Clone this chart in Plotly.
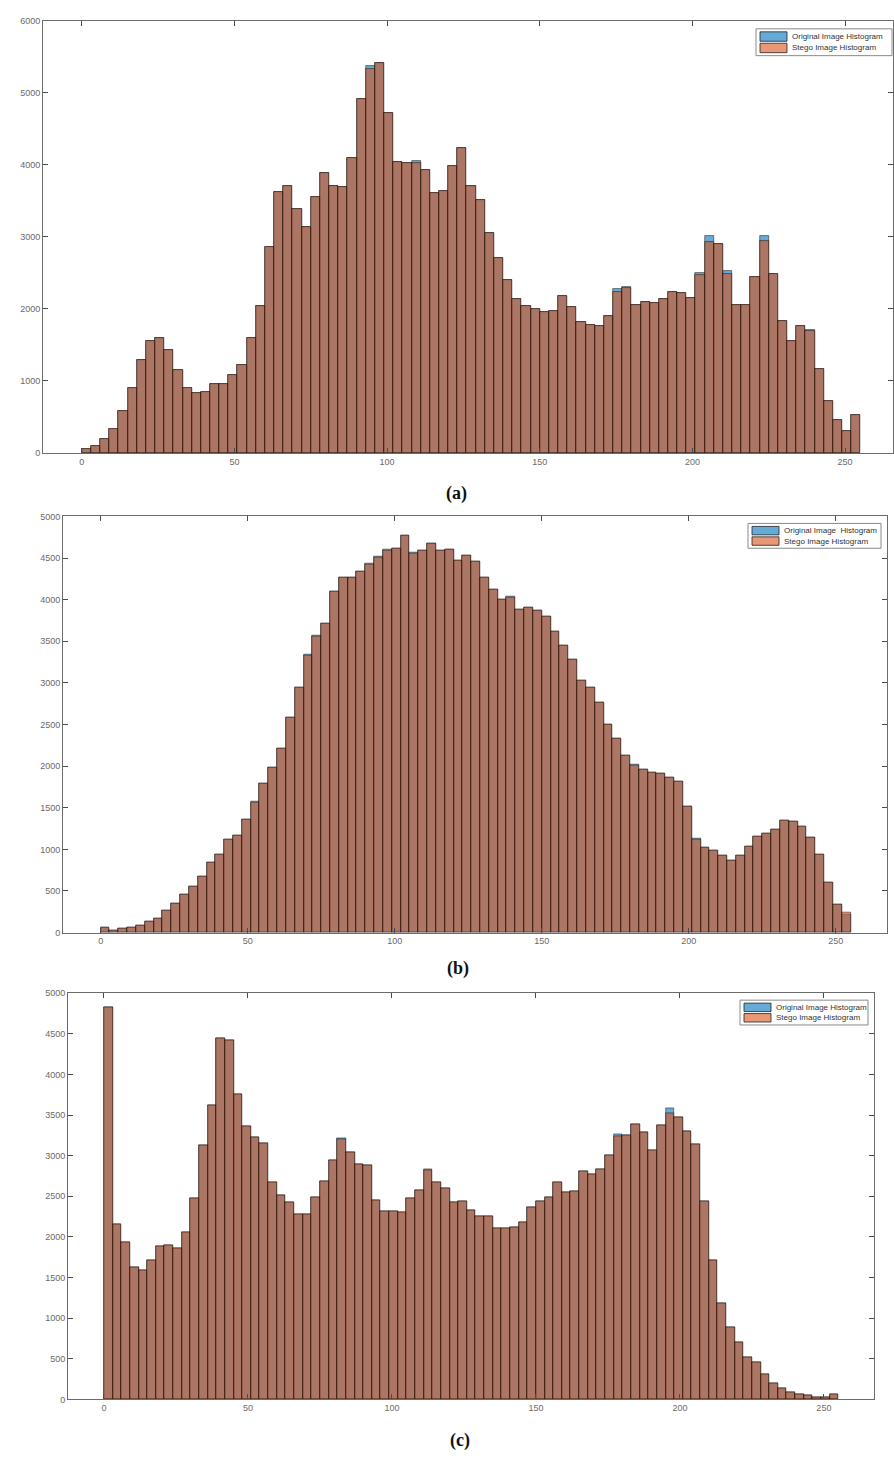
import plotly.graph_objects as go

W, H = 894, 1463

# Bin starts (bin width 3, grey levels 0..255)
bin_starts = list(range(0, 255, 3))
bin_width = 3

# ---- (a) ----
stego_a = [55, 92, 193, 340, 584, 906, 1297, 1559, 1592, 1435,
           1159, 897, 828, 846, 952, 952, 1090, 1219, 1596, 2047,
           2861, 3620, 3703, 3390, 3146, 3560, 3896, 3712, 3689, 4094,
           4922, 5340, 5414, 4724, 4043, 4034, 4030, 3933, 3611, 3643,
           3988, 4241, 3712, 3514, 3054, 2709, 2401, 2134, 2042, 1996,
           1964, 1978, 2185, 2024, 1826, 1780, 1766, 1909, 2240, 2290,
           2056, 2102, 2088, 2139, 2240, 2217, 2148, 2470, 2930, 2907,
           2484, 2056, 2056, 2438, 2944, 2484, 1840, 1559, 1766, 1690,
           1168, 722, 460, 308, 529]
orig_a = [60, 92, 193, 340, 584, 906, 1297, 1559, 1592, 1435,
          1159, 897, 828, 846, 952, 952, 1090, 1219, 1596, 2047,
          2861, 3620, 3703, 3390, 3146, 3560, 3896, 3712, 3689, 4094,
          4922, 5382, 5414, 4724, 4043, 4034, 4050, 3933, 3611, 3643,
          3988, 4241, 3712, 3514, 3054, 2709, 2401, 2134, 2042, 1996,
          1964, 1978, 2185, 2024, 1826, 1780, 1766, 1909, 2280, 2300,
          2056, 2102, 2088, 2139, 2240, 2217, 2148, 2502, 3013, 2907,
          2530, 2056, 2056, 2438, 3013, 2484, 1840, 1559, 1766, 1711,
          1168, 722, 460, 308, 529]

# ---- (b) ----
stego_b = [56, 28, 44, 56, 84, 135, 175, 262, 354, 453,
           557, 676, 843, 939, 1114, 1173, 1360, 1560, 1786, 1980,
           2215, 2585, 2951, 3330, 3560, 3714, 4096, 4271, 4263, 4343,
           4420, 4510, 4590, 4610, 4768, 4560, 4590, 4681, 4590, 4600,
           4470, 4534, 4454, 4263, 4124, 4005, 4030, 3885, 3905, 3866,
           3798, 3619, 3456, 3277, 3030, 2941, 2766, 2502, 2327, 2128,
           2005, 1965, 1929, 1909, 1865, 1817, 1511, 1125, 1022, 982,
           931, 871, 931, 1034, 1153, 1189, 1241, 1348, 1332, 1281,
           1141, 935, 597, 334, 240]
orig_b = [56, 28, 44, 56, 84, 135, 175, 262, 354, 453,
          557, 676, 843, 939, 1114, 1173, 1360, 1579, 1786, 1989,
          2215, 2585, 2951, 3341, 3575, 3714, 4096, 4271, 4263, 4343,
          4430, 4522, 4601, 4621, 4768, 4562, 4590, 4681, 4590, 4609,
          4470, 4534, 4454, 4263, 4124, 4005, 4037, 3885, 3905, 3866,
          3798, 3619, 3456, 3277, 3030, 2941, 2766, 2502, 2327, 2128,
          2017, 1965, 1929, 1909, 1865, 1817, 1511, 1133, 1022, 982,
          931, 871, 931, 1034, 1153, 1189, 1241, 1348, 1332, 1281,
          1141, 935, 597, 334, 215]

# ---- (c) ----
stego_c = [4824, 2157, 1941, 1627, 1594, 1717, 1888, 1900, 1860, 2055,
           2479, 3124, 3625, 4449, 4420, 3756, 3368, 3226, 3156, 2675,
           2512, 2422, 2275, 2275, 2492, 2687, 2940, 3200, 3042, 2891,
           2887, 2450, 2320, 2316, 2300, 2479, 2573, 2820, 2675, 2594,
           2422, 2438, 2324, 2259, 2259, 2104, 2104, 2116, 2186, 2369,
           2438, 2492, 2675, 2545, 2561, 2806, 2777, 2838, 3010, 3240,
           3254, 3389, 3287, 3063, 3377, 3519, 3470, 3307, 3144, 2439,
           1717, 1179, 893, 705, 514, 453, 310, 196, 139, 94,
           65, 53, 33, 33, 65]
orig_c = [4824, 2157, 1941, 1627, 1594, 1717, 1888, 1900, 1860, 2055,
          2479, 3124, 3625, 4449, 4420, 3756, 3368, 3226, 3156, 2675,
          2512, 2422, 2275, 2275, 2492, 2687, 2940, 3217, 3042, 2891,
          2887, 2450, 2320, 2316, 2300, 2479, 2573, 2838, 2675, 2594,
          2422, 2438, 2324, 2259, 2259, 2104, 2104, 2116, 2186, 2369,
          2438, 2492, 2675, 2545, 2561, 2806, 2777, 2838, 3010, 3262,
          3254, 3389, 3287, 3063, 3377, 3585, 3470, 3307, 3144, 2439,
          1717, 1179, 893, 705, 514, 453, 310, 196, 139, 94,
          65, 53, 33, 33, 65]

x_ticks = [0, 50, 100, 150, 200, 250]
captions = ["(a)", "(b)", "(c)"]
legend_names = [
    ["Original Image Histogram", "Stego Image Histogram"],
    ["Original Image&nbsp; Histogram", "Stego Image Histogram"],
    ["Original Image Histogram", "Stego Image Histogram"],
]
y_max = [6000, 5000, 5000]
y_step = [1000, 500, 500]

BLUE = "rgba(0,114,189,0.6)"
ORANGE = "rgba(217,83,25,0.6)"

# panel geometry in pixels: (left, right, top, bottom), x range
panels = [
    (43, 893, 16, 451, [-12.7, 265.7]),
    (63, 887, 515, 934, [-12.8, 267.4]),
    (68, 874, 995, 1404, [-12.5, 267.4]),
]
# legend boxes in pixels: (left, right, top, bottom)
legend_box = [(756, 892, 24, 51), (748, 881, 522, 547), (740, 868, 1002, 1027)]
caption_px = [(457, 492), (458, 970), (460, 1445)]

centers = [s + bin_width / 2 for s in bin_starts]
series = [(orig_a, stego_a), (orig_b, stego_b), (orig_c, stego_c)]


def px(x):
    return x / W


def py(y):
    return 1 - y / H


fig = go.Figure()
layout = dict(
    width=W, height=H,
    margin=dict(l=0, r=0, t=0, b=0),
    paper_bgcolor="white", plot_bgcolor="white",
    barmode="overlay", bargap=0,
    showlegend=False,
    font=dict(family="Liberation Sans, Arial, sans-serif", size=9, color="#555555"),
)
annotations = []
shapes = []
for i, ((orig, stego), (l, r, t, b, xr)) in enumerate(zip(series, panels)):
    suf = "" if i == 0 else str(i + 1)
    for vals, col, name in ((orig, BLUE, legend_names[i][0]), (stego, ORANGE, legend_names[i][1])):
        fig.add_trace(go.Bar(
            x=centers, y=vals, width=bin_width, name=name.replace("&nbsp;", ""),
            marker=dict(color=col, line=dict(color="rgba(20,10,5,0.8)", width=0.6)),
            xaxis="x" + suf, yaxis="y" + suf,
            hoverinfo="x+y",
        ))
    axcommon = dict(
        showline=True, linecolor="#6b6b6b", linewidth=1, mirror="ticks",
        ticks="inside", ticklen=5, tickcolor="#4a4a4a", tickwidth=1,
        showgrid=False, zeroline=False,
        tickfont=dict(size=9, color="#6a6a6a"),
    )
    layout["xaxis" + suf] = dict(
        axcommon, domain=[px(l), px(r)], range=xr, anchor="y" + suf,
        tickvals=x_ticks, ticktext=[str(v) for v in x_ticks],
    )
    yt = list(range(0, y_max[i] + 1, y_step[i]))
    layout["yaxis" + suf] = dict(
        axcommon, domain=[py(b), py(t)], range=[0, y_max[i]], anchor="x" + suf,
        tickvals=yt, ticktext=[str(v) for v in yt],
    )
    # compact MATLAB-style legend
    bl, br, bt, bb = legend_box[i]
    shapes.append(dict(type="rect", xref="paper", yref="paper",
                       x0=px(bl), x1=px(br), y0=py(bb), y1=py(bt),
                       line=dict(color="#8a8a8a", width=1), fillcolor="white", layer="above"))
    rowh = (bb - bt - 4) / 2
    for j, col in enumerate((BLUE, ORANGE)):
        y0 = bt + 2 + j * rowh + 1
        y1 = bt + 2 + (j + 1) * rowh - 1
        shapes.append(dict(type="rect", xref="paper", yref="paper",
                           x0=px(bl + 4), x1=px(bl + 31), y0=py(y1), y1=py(y0),
                           line=dict(color="#222222", width=0.8), fillcolor=col, layer="above"))
        annotations.append(dict(
            x=px(bl + 34), y=py((y0 + y1) / 2), xref="paper", yref="paper",
            text=legend_names[i][j], showarrow=False,
            font=dict(size=8, color="#333333"),
            xanchor="left", yanchor="middle",
        ))
    cx, cy = caption_px[i]
    annotations.append(dict(
        x=px(cx), y=py(cy), xref="paper", yref="paper",
        text="<b>" + captions[i] + "</b>", showarrow=False,
        font=dict(family="Liberation Serif, Times New Roman, serif", size=18, color="#111111"),
        xanchor="center", yanchor="middle",
    ))
layout["annotations"] = annotations
layout["shapes"] = shapes
fig.update_layout(**layout)
fig.write_html(
    "out.html",
    config={"displayModeBar": False},
    post_script="document.body.style.margin='0';document.body.style.overflow='hidden';",
)
